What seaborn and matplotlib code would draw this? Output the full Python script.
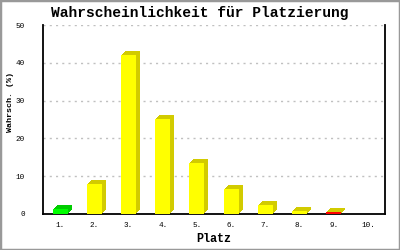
import matplotlib
matplotlib.use("Agg")
import matplotlib.pyplot as plt
import matplotlib.transforms as mtransforms
from matplotlib.patches import Rectangle
import seaborn as sns
import pandas as pd

places = ["1.", "2.", "3.", "4.", "5.", "6.", "7.", "8.", "9.", "10."]
probs = [1.4, 8.0, 42.1, 25.1, 13.5, 6.6, 2.4, 0.8, 0.4, 0.0]
front_colors = ["#00FF00", "#FFFF00", "#FFFF00", "#FFFF00", "#FFFF00",
                "#FFFF00", "#FFFF00", "#FFFF00", "#FF0000", "#FFFF00"]
side_colors = ["#00CC00", "#D2CB00", "#D2CB00", "#D2CB00", "#D2CB00",
               "#D2CB00", "#D2CB00", "#D2CB00", "#D2CB00", "#D2CB00"]
yticks = [0, 10, 20, 30, 40, 50]

sns.set_style("white")
plt.rcParams["font.family"] = ["Liberation Mono", "DejaVu Sans Mono"]
plt.rcParams["text.color"] = "black"
plt.rcParams["axes.labelcolor"] = "black"
plt.rcParams["xtick.color"] = "black"
plt.rcParams["ytick.color"] = "black"

df = pd.DataFrame({"Platz": places, "p": probs})

fig = plt.figure(figsize=(4, 2.5), dpi=100)
ax = fig.add_axes([0.1075, 0.144, 0.855, 0.756])

sns.barplot(data=df, x="Platz", y="p", hue="Platz", palette=front_colors,
            legend=False, width=0.44, saturation=1, ax=ax, zorder=3,
            edgecolor="none", linewidth=0)

# 3D side/top faces: stepped offset copies of each bar
for patch, sc in zip(list(ax.patches), side_colors):
    h = patch.get_height()
    if h <= 0:
        continue
    for k in range(1, 5):
        off = mtransforms.ScaledTranslation(k / 100, k / 100, fig.dpi_scale_trans)
        r = Rectangle((patch.get_x(), patch.get_y()), patch.get_width(), h,
                      transform=ax.transData + off, facecolor=sc,
                      edgecolor="none", zorder=2)
        ax.add_patch(r)

ax.set_ylim(0, 50)
ax.set_xlim(-0.5, 9.5)
ax.set_yticks(yticks)
ax.set_yticklabels([str(v) for v in yticks])
for v in yticks[1:]:
    ax.axhline(v, color="#C0C0C0", linestyle=(0, (1.5, 3)), linewidth=1, zorder=1)

for s in ["left", "bottom", "right"]:
    ax.spines[s].set_visible(True)
    ax.spines[s].set_color("black")
    ax.spines[s].set_linewidth(1.3)
ax.spines["top"].set_visible(False)

ax.tick_params(axis="y", direction="out", length=5, width=1.2, color="black",
               labelcolor="black", labelsize=5.5, pad=8)
ax.tick_params(axis="x", length=0, labelcolor="black", labelsize=5.5, pad=6)

ax.set_xlabel("Platz", fontsize=8.5, fontweight="bold", labelpad=3, color="black")
ax.set_ylabel("Wahrsch. (%)", fontsize=6, fontweight="bold", color="black")
ax.yaxis.set_label_coords(-0.085, 0.59)
fig.suptitle("Wahrscheinlichkeit für Platzierung", fontsize=10.5,
             fontweight="bold", y=0.975, color="black")

fig.patches.append(Rectangle((0, 0), 1, 1, transform=fig.transFigure,
                             fill=False, edgecolor="#999999", linewidth=2.5))

fig.savefig("out.png", dpi=100)
